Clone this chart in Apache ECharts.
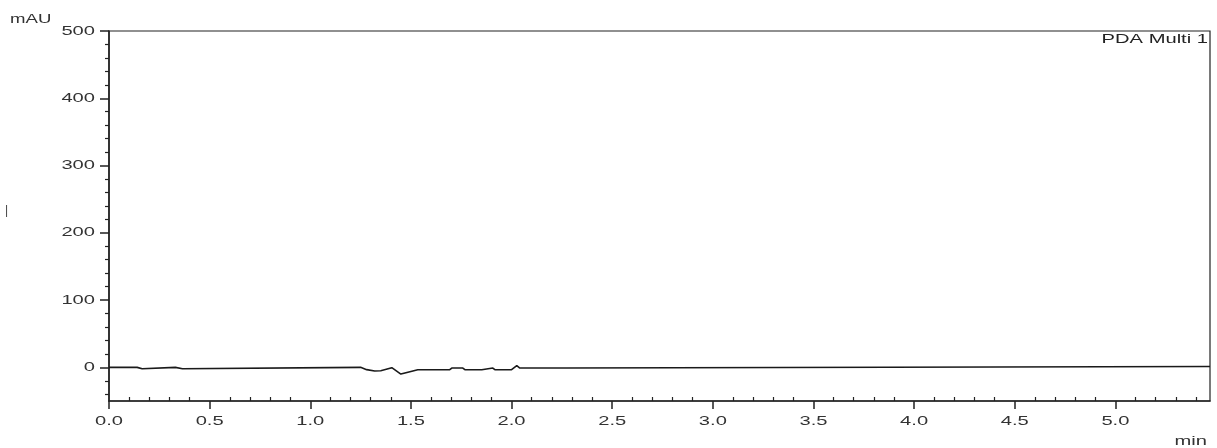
<!DOCTYPE html>
<html>
<head>
<meta charset="utf-8">
<script src="https://cdn.jsdelivr.net/npm/echarts@6/dist/echarts.min.js"></script>
<style>
html,body{margin:0;padding:0;background:#fff;}
#chart{width:1217px;height:448px;}
</style>
</head>
<body>
<div id="chart"></div>
<script>
// Time (min) and absorbance (mAU)
const times = [0, 0.14, 0.145, 0.165, 0.17, 0.33, 0.335, 0.365, 0.37, 1.25, 1.28, 1.32, 1.35, 1.405, 1.45, 1.495, 1.534, 1.693, 1.703, 1.758, 1.768, 1.852, 1.857, 1.907, 1.917, 2.0, 2.026, 2.041, 2.274, 2.279, 5.47];
const values = [0, 0, -2, -2, 0, 0, -2, -2, 0, 0, -3.4, -5.4, -5, -0.5, -10, -6.5, -3.5, -3.5, -1, -1, -3.5, -3.5, -1, -1, -3.5, -3.5, 2.5, -1, -1, 1.2, 1.2];
const xTicks = [0, 0.5, 1.0, 1.5, 2.0, 2.5, 3.0, 3.5, 4.0, 4.5, 5.0];
const xMinorTicks = [0.1,0.2,0.3,0.4,0.6,0.7,0.8,0.9,1.1,1.2,1.3,1.4,1.6,1.7,1.8,1.9,2.1,2.2,2.3,2.4,2.6,2.7,2.8,2.9,3.1,3.2,3.3,3.4,3.6,3.7,3.8,3.9,4.1,4.2,4.3,4.4,4.6,4.7,4.8,4.9,5.1,5.2,5.3,5.4];
const yTicks = [0, 100, 200, 300, 400, 500];
const yMinorTicks = [-40,-20,20,40,60,80,120,140,160,180,220,240,260,280,320,340,360,380,420,440,460,480];
const xRange = [0, 5.47];
const yRange = [-50, 500];

const font = 'Liberation Sans, Arial, sans-serif';
const axisColor = '#222';
const labelColor = '#333';
const stretch = 1.55; // the reference's text is horizontally stretched

const chart = echarts.init(document.getElementById('chart'));
chart.setOption({
  animation: false,
  backgroundColor: '#fff',
  grid: { left: 109, right: 7, top: 31, bottom: 47, show: true, borderColor: axisColor, borderWidth: 1.2, backgroundColor: 'transparent' },
  xAxis: [{
    type: 'value', min: xRange[0], max: xRange[1],
    axisLine: { show: true, onZero: false, lineStyle: { color: axisColor, width: 1.6 } },
    axisTick: { show: true, inside: false, length: 8, customValues: xTicks, lineStyle: { color: axisColor, width: 1.5 } },
    axisLabel: { show: false },
    splitLine: { show: false }
  }, {
    type: 'value', min: xRange[0], max: xRange[1], position: 'bottom',
    axisLine: { show: false, onZero: false },
    axisTick: { show: true, inside: true, length: 4, customValues: xMinorTicks, lineStyle: { color: axisColor, width: 1.2 } },
    axisLabel: { show: false },
    splitLine: { show: false }
  }],
  yAxis: [{
    type: 'value', min: yRange[0], max: yRange[1],
    axisLine: { show: true, onZero: false, lineStyle: { color: axisColor, width: 1.6 } },
    axisTick: { show: true, inside: false, length: 9, customValues: yTicks, lineStyle: { color: axisColor, width: 1.5 } },
    axisLabel: { show: false },
    splitLine: { show: false }
  }, {
    type: 'value', min: yRange[0], max: yRange[1], position: 'left',
    axisLine: { show: false, onZero: false },
    axisTick: { show: true, inside: false, length: 4, customValues: yMinorTicks, lineStyle: { color: axisColor, width: 1.2 } },
    axisLabel: { show: false },
    splitLine: { show: false }
  }],
  series: [{
    type: 'line',
    xAxisIndex: 0, yAxisIndex: 0,
    data: times.map((t, i) => [t, values[i]]),
    showSymbol: false,
    lineStyle: { color: '#1a1a1a', width: 1.6 }
  }]
});

// Tick labels placed through the library's own scales, drawn horizontally stretched
const gridRect = chart.getModel().getComponent('grid').coordinateSystem.getRect();
const labels = [];
xTicks.forEach(v => {
  const px = chart.convertToPixel({ xAxisIndex: 0 }, v);
  labels.push({ type: 'text', x: px, y: gridRect.y + gridRect.height + 20, scaleX: stretch,
    style: { text: v.toFixed(1), align: 'center', verticalAlign: 'middle', fill: labelColor, font: '13px ' + font } });
});
yTicks.forEach(v => {
  const py = chart.convertToPixel({ yAxisIndex: 0 }, v);
  labels.push({ type: 'text', x: gridRect.x - 14, y: py, scaleX: stretch,
    style: { text: String(v), align: 'right', verticalAlign: 'middle', fill: labelColor, font: '13px ' + font } });
});
labels.push(
  { type: 'text', x: 10, y: 20, scaleX: stretch, style: { text: 'mAU', align: 'left', verticalAlign: 'middle', fill: labelColor, font: '12px ' + font } },
  { type: 'text', x: 1207, y: 441, scaleX: stretch, style: { text: 'min', align: 'right', verticalAlign: 'middle', fill: labelColor, font: '13px ' + font } },
  { type: 'text', x: gridRect.x + gridRect.width - 2, y: 39, scaleX: stretch, style: { text: 'PDA Multi 1', align: 'right', verticalAlign: 'middle', fill: '#222', font: '13px ' + font } },
  { type: 'text', x: 5, y: 211, style: { text: '|', align: 'left', verticalAlign: 'middle', fill: '#444', font: '12px ' + font } }
);
chart.setOption({ graphic: labels });
</script>
</body>
</html>
